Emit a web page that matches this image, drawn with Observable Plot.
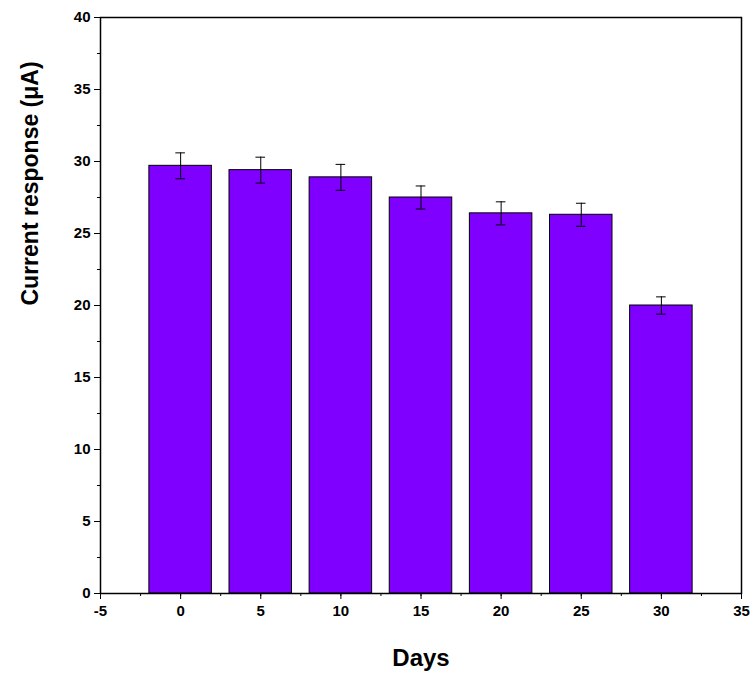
<!DOCTYPE html>
<html><head><meta charset="utf-8">
<script src="https://cdn.jsdelivr.net/npm/d3@7"></script>
<script src="https://cdn.jsdelivr.net/npm/@observablehq/plot@0.6"></script>
<style>body{margin:0;background:#fff;font-family:"Liberation Sans",Arial,sans-serif}</style>
</head><body><div id="c"></div>
<script>
const days = [0, 5, 10, 15, 20, 25, 30];
const current = [29.7, 29.4, 28.9, 27.5, 26.4, 26.3, 20.0];
const errs = [0.9, 0.9, 0.9, 0.8, 0.8, 0.8, 0.6];
const xTicks = [-5, 0, 5, 10, 15, 20, 25, 30, 35];
const yTicks = [0, 5, 10, 15, 20, 25, 30, 35, 40];
const xMinor = d3.range(-5, 35.1, 2.5);
const yMinor = d3.range(0, 40.1, 2.5);
const halfWidth = 1.95;
const data = days.map((d, i) => ({d, v: current[i], e: errs[i]}));
const chart = Plot.plot({
  width: 750, height: 684,
  marginLeft: 100, marginRight: 9, marginTop: 17, marginBottom: 91,
  style: {fontFamily: "Liberation Sans, Arial, sans-serif", fontSize: "15px", fontWeight: "bold", color: "#000"},
  x: {domain: [-5, 35]},
  y: {domain: [0, 40]},
  marks: [
    Plot.rectY(data, {x1: d => d.d - halfWidth, x2: d => d.d + halfWidth, y: "v", fill: "#7f00ff", stroke: "#000", strokeWidth: 1}),
    Plot.ruleX(data, {x: "d", y1: d => d.v - d.e, y2: d => d.v + d.e, stroke: "#000"}),
    Plot.ruleY(data, {x1: d => d.d - 0.3, x2: d => d.d + 0.3, y: d => d.v - d.e, stroke: "#000"}),
    Plot.ruleY(data, {x1: d => d.d - 0.3, x2: d => d.d + 0.3, y: d => d.v + d.e, stroke: "#000"}),
    Plot.frame({stroke: "#000", strokeWidth: 1.5}),
    Plot.axisY({ticks: yMinor, tickSize: 3, text: null, label: null}),
    Plot.axisY({ticks: yTicks, tickSize: 6, tickPadding: 4, tickFormat: d => String(d), label: null}),
    Plot.axisX({ticks: xMinor, tickSize: 3, text: null, label: null}),
    Plot.axisX({ticks: xTicks, tickSize: 6, tickPadding: 6, tickFormat: d => String(d), label: null}),
    Plot.text(["Days"], {frameAnchor: "bottom", dy: 72, fontSize: 24, fontWeight: "bold"}),
    Plot.text(["Current response (μA)"], {frameAnchor: "left", dx: -70, rotate: -90, fontSize: 23, fontWeight: "bold", letterSpacing: "2px"})
  ]
});
document.getElementById("c").append(chart);
</script></body></html>
